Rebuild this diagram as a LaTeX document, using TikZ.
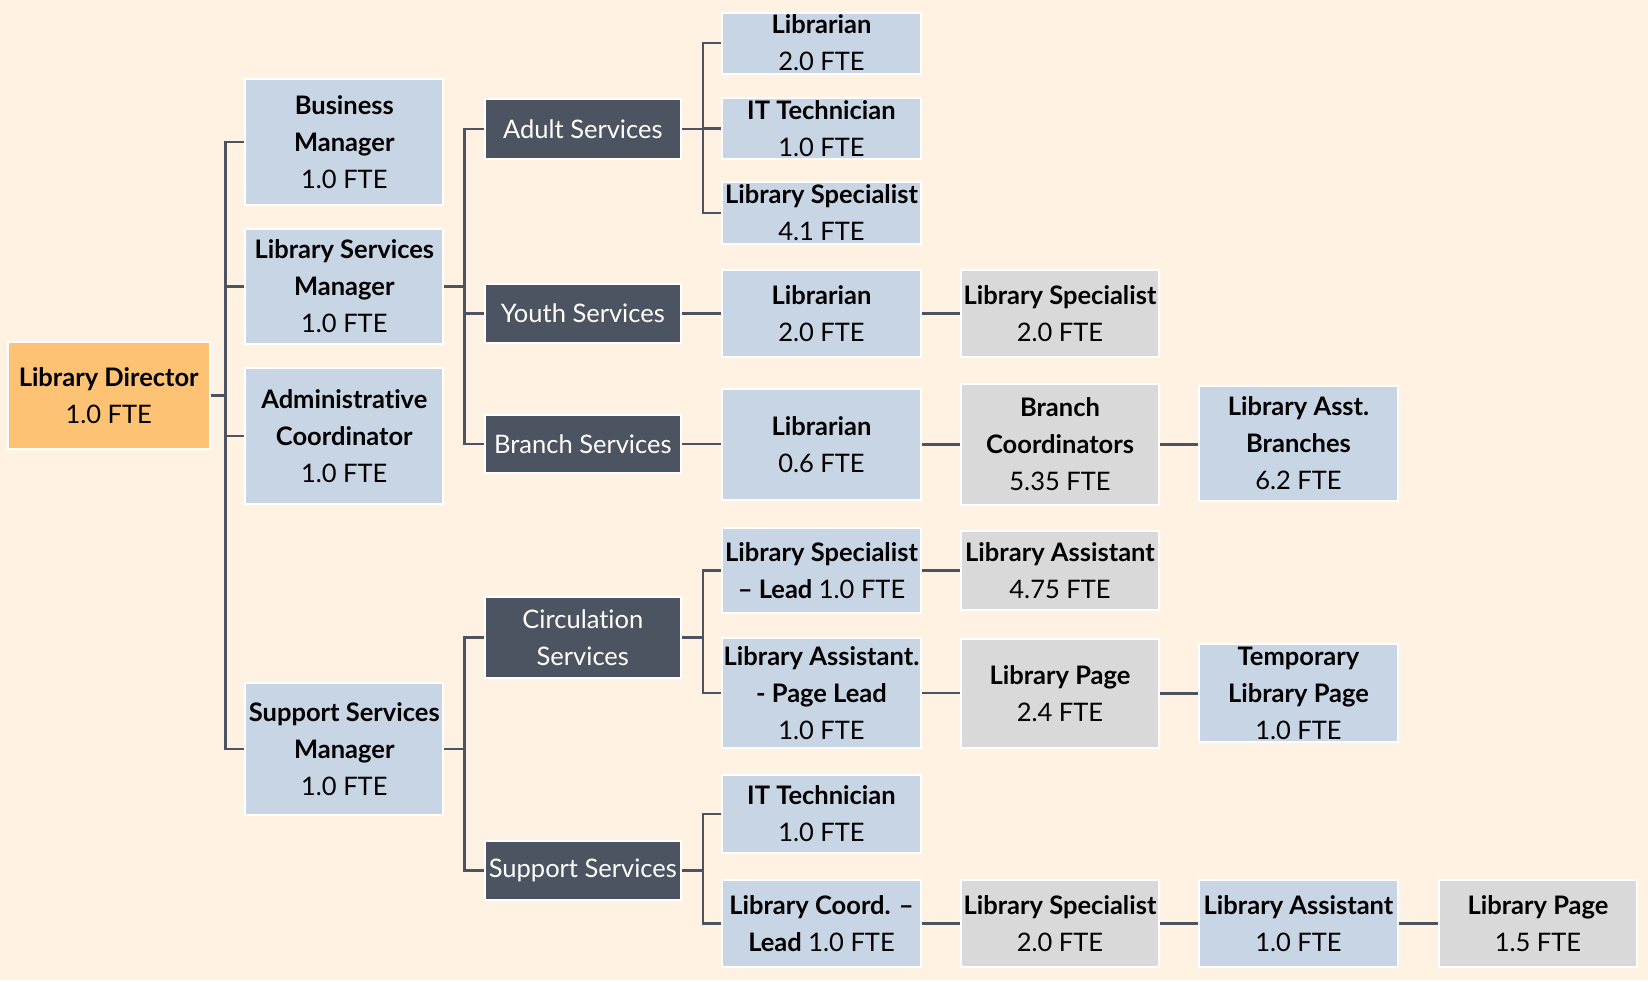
\documentclass[tikz,border=0pt]{standalone}
\usepackage{fontspec}
\setmainfont[Ligatures={NoCommon,TeX}]{Lato}
\definecolor{bg}{HTML}{FFF2E3}
\definecolor{lblue}{HTML}{C8D5E4}
\definecolor{lgray}{HTML}{D9D9D9}
\definecolor{dark}{HTML}{4D5461}
\definecolor{orng}{HTML}{FDC274}
\newcommand{\bt}[1]{\textbf{#1}}
\tikzset{
  box/.style={draw=white, line width=2pt, inner sep=0pt, align=center,
    font=\fontsize{25.5}{37}\selectfont, text=black},
  bluebox/.style={box, fill=lblue},
  graybox/.style={box, fill=lgray},
  darkbox/.style={box, fill=dark, text=white},
  dirbox/.style={box, fill=orng},
  conn/.style={draw=dark, line width=2.5pt}
}
\begin{document}
\begin{tikzpicture}[x=1pt,y=-1pt]
\fill[bg] (0,0) rectangle (1648,980);
\useasboundingbox (0,0) rectangle (1648,980);
% level 1
\node[dirbox, minimum width=202pt, minimum height=107pt] (dir) at (108.7,395.5) {\bt{Library Director}\\1.0 FTE};
% managers
\node[bluebox, minimum width=198pt, minimum height=126pt] (bm) at (344.3,142) {\bt{Business}\\\bt{Manager}\\1.0 FTE};
\node[bluebox, minimum width=198pt, minimum height=115pt] (lsm) at (344.3,286.5) {\bt{Library Services}\\\bt{Manager}\\1.0 FTE};
\node[bluebox, minimum width=198pt, minimum height=136pt] (ac) at (344.3,436) {\bt{Administrative}\\\bt{Coordinator}\\1.0 FTE};
\node[bluebox, minimum width=198pt, minimum height=132pt] (ssm) at (344.3,749) {\bt{Support Services}\\\bt{Manager}\\1.0 FTE};
% dark services
\node[darkbox, minimum width=196pt, minimum height=60pt] (adult) at (582.8,129) {Adult Services};
\node[darkbox, minimum width=196pt, minimum height=59pt] (youth) at (582.8,313.5) {Youth Services};
\node[darkbox, minimum width=196pt, minimum height=58pt] (branch) at (582.8,444) {Branch Services};
\node[darkbox, minimum width=196pt, minimum height=81pt] (circ) at (582.8,637.5) {Circulation\\Services};
\node[darkbox, minimum width=196pt, minimum height=59pt] (supp) at (582.8,870.5) {Support Services};
% column 4
\node[bluebox, minimum width=199pt, minimum height=61pt] (lib1) at (821.5,43) {\bt{Librarian}\\2.0 FTE};
\node[bluebox, minimum width=199pt, minimum height=61pt] (it1) at (821.5,128.5) {\bt{IT Technician}\\1.0 FTE};
\node[bluebox, minimum width=199pt, minimum height=62pt] (ls1) at (821.5,213) {\bt{Library Specialist}\\4.1 FTE};
\node[bluebox, minimum width=199pt, minimum height=87pt] (lib2) at (821.5,313.5) {\bt{Librarian}\\2.0 FTE};
\node[bluebox, minimum width=199pt, minimum height=111pt] (lib3) at (821.5,444.5) {\bt{Librarian}\\0.6 FTE};
\node[bluebox, minimum width=199pt, minimum height=85pt] (lsl) at (821.5,570.5) {\bt{Library Specialist}\\\bt{– Lead} 1.0 FTE};
\node[bluebox, minimum width=199pt, minimum height=110pt] (lapl) at (821.5,693) {\bt{Library Assistant.}\\\bt{- Page Lead}\\1.0 FTE};
\node[bluebox, minimum width=199pt, minimum height=78pt] (it2) at (821.5,814) {\bt{IT Technician}\\1.0 FTE};
\node[bluebox, minimum width=199pt, minimum height=87pt] (lcl) at (821.5,923.5) {\bt{Library Coord. –}\\\bt{Lead} 1.0 FTE};
% column 5
\node[graybox, minimum width=198pt, minimum height=87pt] (ls2) at (1060,313.5) {\bt{Library Specialist}\\2.0 FTE};
\node[graybox, minimum width=198pt, minimum height=121pt] (bc) at (1060,444.5) {\bt{Branch}\\\bt{Coordinators}\\5.35 FTE};
\node[graybox, minimum width=198pt, minimum height=79pt] (la1) at (1060,570.5) {\bt{Library Assistant}\\4.75 FTE};
\node[graybox, minimum width=198pt, minimum height=109pt] (lp1) at (1060,693.5) {\bt{Library Page}\\2.4 FTE};
\node[graybox, minimum width=198pt, minimum height=87pt] (ls3) at (1060,923.5) {\bt{Library Specialist}\\2.0 FTE};
% column 6
\node[bluebox, minimum width=199pt, minimum height=115pt] (lab) at (1298.5,443.5) {\bt{Library Asst.}\\\bt{Branches}\\6.2 FTE};
\node[bluebox, minimum width=199pt, minimum height=98pt] (tlp) at (1298.5,693) {\bt{Temporary}\\\bt{Library Page}\\1.0 FTE};
\node[bluebox, minimum width=199pt, minimum height=87pt] (la2) at (1298.5,923.5) {\bt{Library Assistant}\\1.0 FTE};
% column 7
\node[graybox, minimum width=198pt, minimum height=87pt] (lp2) at (1538,923.5) {\bt{Library Page}\\1.5 FTE};
% connectors
\foreach \c in {bm,lsm,ac,ssm} \draw[conn] (dir.east) -- ++(15,0) |- (\c.west);
\foreach \c in {adult,youth,branch} \draw[conn] (lsm.east) -- ++(20,0) |- (\c.west);
\foreach \c in {circ,supp} \draw[conn] (ssm.east) -- ++(20,0) |- (\c.west);
\foreach \c in {lib1,it1,ls1} \draw[conn] (adult.east) -- ++(21,0) |- (\c.west);
\foreach \c in {lsl,lapl} \draw[conn] (circ.east) -- ++(21,0) |- (\c.west);
\foreach \c in {it2,lcl} \draw[conn] (supp.east) -- ++(21,0) |- (\c.west);
\draw[conn] (youth.east) -- (youth.east -| lib2.west);
\draw[conn] (lib2.east) -- (lib2.east -| ls2.west);
\draw[conn] (branch.east) -- (branch.east -| lib3.west);
\draw[conn] (lib3.east) -- (lib3.east -| bc.west);
\draw[conn] (bc.east) -- (bc.east -| lab.west);
\draw[conn] (lsl.east) -- (lsl.east -| la1.west);
\draw[conn] (lapl.east) -- (lapl.east -| lp1.west);
\draw[conn] (lp1.east) -- (lp1.east -| tlp.west);
\draw[conn] (lcl.east) -- (lcl.east -| ls3.west);
\draw[conn] (ls3.east) -- (ls3.east -| la2.west);
\draw[conn] (la2.east) -- (la2.east -| lp2.west);
\end{tikzpicture}
\end{document}
